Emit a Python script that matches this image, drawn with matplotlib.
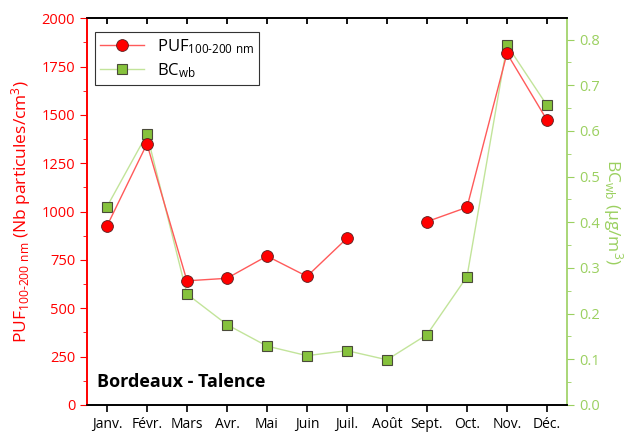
import numpy as np
import matplotlib

matplotlib.use("Agg")

import matplotlib.pyplot as plt
from matplotlib.ticker import MultipleLocator, FormatStrFormatter

plt.rcParams["font.family"] = ["Open Sans", "DejaVu Sans"]
plt.rcParams["mathtext.fontset"] = "custom"
plt.rcParams["mathtext.rm"] = "Open Sans"
plt.rcParams["mathtext.it"] = "Open Sans"

months = ["Janv.", "Févr.", "Mars", "Avr.", "Mai", "Juin", "Juil.",
          "Août", "Sept.", "Oct.", "Nov.", "Déc."]
puf = [925, 1350, 642, 655, 770, 665, 862, np.nan, 948, 1022, 1818, 1473]
bc = [0.434, 0.593, 0.243, 0.176, 0.129, 0.108, 0.119, 0.099, 0.154, 0.281, 0.788, 0.656]

RED = "#ff0000"
RED_LINE = "#ff5a5a"
GREEN_AX = "#9bd060"
GREEN_FILL = "#86c23c"
GREEN_LINE = "#c2e49a"

fig = plt.figure(figsize=(6.3, 4.32), dpi=100)
ax = fig.add_axes([0.138, 0.0625, 0.762, 0.8955])
ax2 = ax.twinx()

x = np.arange(len(months))
h2, = ax2.plot(x, bc, "-s", color=GREEN_LINE, lw=1, markersize=7.5,
               markerfacecolor=GREEN_FILL, markeredgecolor="#4a4a3a",
               markeredgewidth=0.8, label=r"BC$_{\mathregular{wb}}$")
h1, = ax.plot(x, puf, "-o", color=RED_LINE, lw=1, markersize=8.5,
              markerfacecolor=RED, markeredgecolor="#5a2020",
              markeredgewidth=0.6, label=r"PUF$_{\mathregular{100\text{-}200\ nm}}$")
ax.set_zorder(ax2.get_zorder() + 1)
ax.patch.set_visible(False)

ax.set_xlim(-0.5, 11.5)
ax.set_ylim(0, 2000)
ax2.set_ylim(0, 0.847)
ax.set_xticks(x)
ax.set_xticklabels(months, fontsize=10)
ax.yaxis.set_major_locator(MultipleLocator(250))
ax.yaxis.set_minor_locator(MultipleLocator(125))
ax2.yaxis.set_major_locator(MultipleLocator(0.1))
ax2.yaxis.set_minor_locator(MultipleLocator(0.05))
ax2.yaxis.set_major_formatter(FormatStrFormatter("%.1f"))

# bottom ticks outwards; top ticks inwards as short vertical segments
ax.tick_params(axis="x", direction="out", length=5, width=1.2,
               top=False, labeltop=False)
ax.vlines(x, 0.985, 1.0, colors="black", linewidth=1.3,
          transform=ax.get_xaxis_transform(), clip_on=False, zorder=6)

ax.tick_params(axis="y", which="both", colors=RED, labelsize=10.5)
ax.tick_params(axis="y", which="major", length=5)
ax.tick_params(axis="y", which="minor", length=3)
ax2.tick_params(axis="y", which="both", colors=GREEN_AX, labelsize=10.5)
ax2.tick_params(axis="y", which="major", length=5)
ax2.tick_params(axis="y", which="minor", length=3)

ax.spines["left"].set_color(RED)
ax2.spines["left"].set_color(RED)
ax2.spines["right"].set_color(GREEN_AX)
ax.spines["right"].set_visible(False)
for sp in ("left", "right", "top", "bottom"):
    ax2.spines[sp].set_linewidth(1.2)
    ax.spines[sp].set_linewidth(1.2)

ax.set_ylabel(r"PUF$_{\mathregular{100\text{-}200\ nm}}$ (Nb particules/cm$^{\mathregular{3}}$)",
              color=RED, fontsize=12.5, labelpad=6)
ax2.set_ylabel(r"BC$_{\mathregular{wb}}$ (µg/m$^{\mathregular{3}}$)", color=GREEN_AX,
               fontsize=12.5, rotation=270, labelpad=18)

ax.text(0.02, 0.035, "Bordeaux - Talence", transform=ax.transAxes,
        fontsize=13, fontweight="bold", ha="left", va="bottom")

leg = ax.legend([h1, h2], [h1.get_label(), h2.get_label()], loc="upper left",
                bbox_to_anchor=(0.0, 0.985), fontsize=12, fancybox=False,
                edgecolor="#333333", framealpha=1, borderpad=0.3,
                handlelength=2.6, labelspacing=0.3)
leg.get_frame().set_linewidth(0.8)

fig.savefig("out.png", dpi=100)
